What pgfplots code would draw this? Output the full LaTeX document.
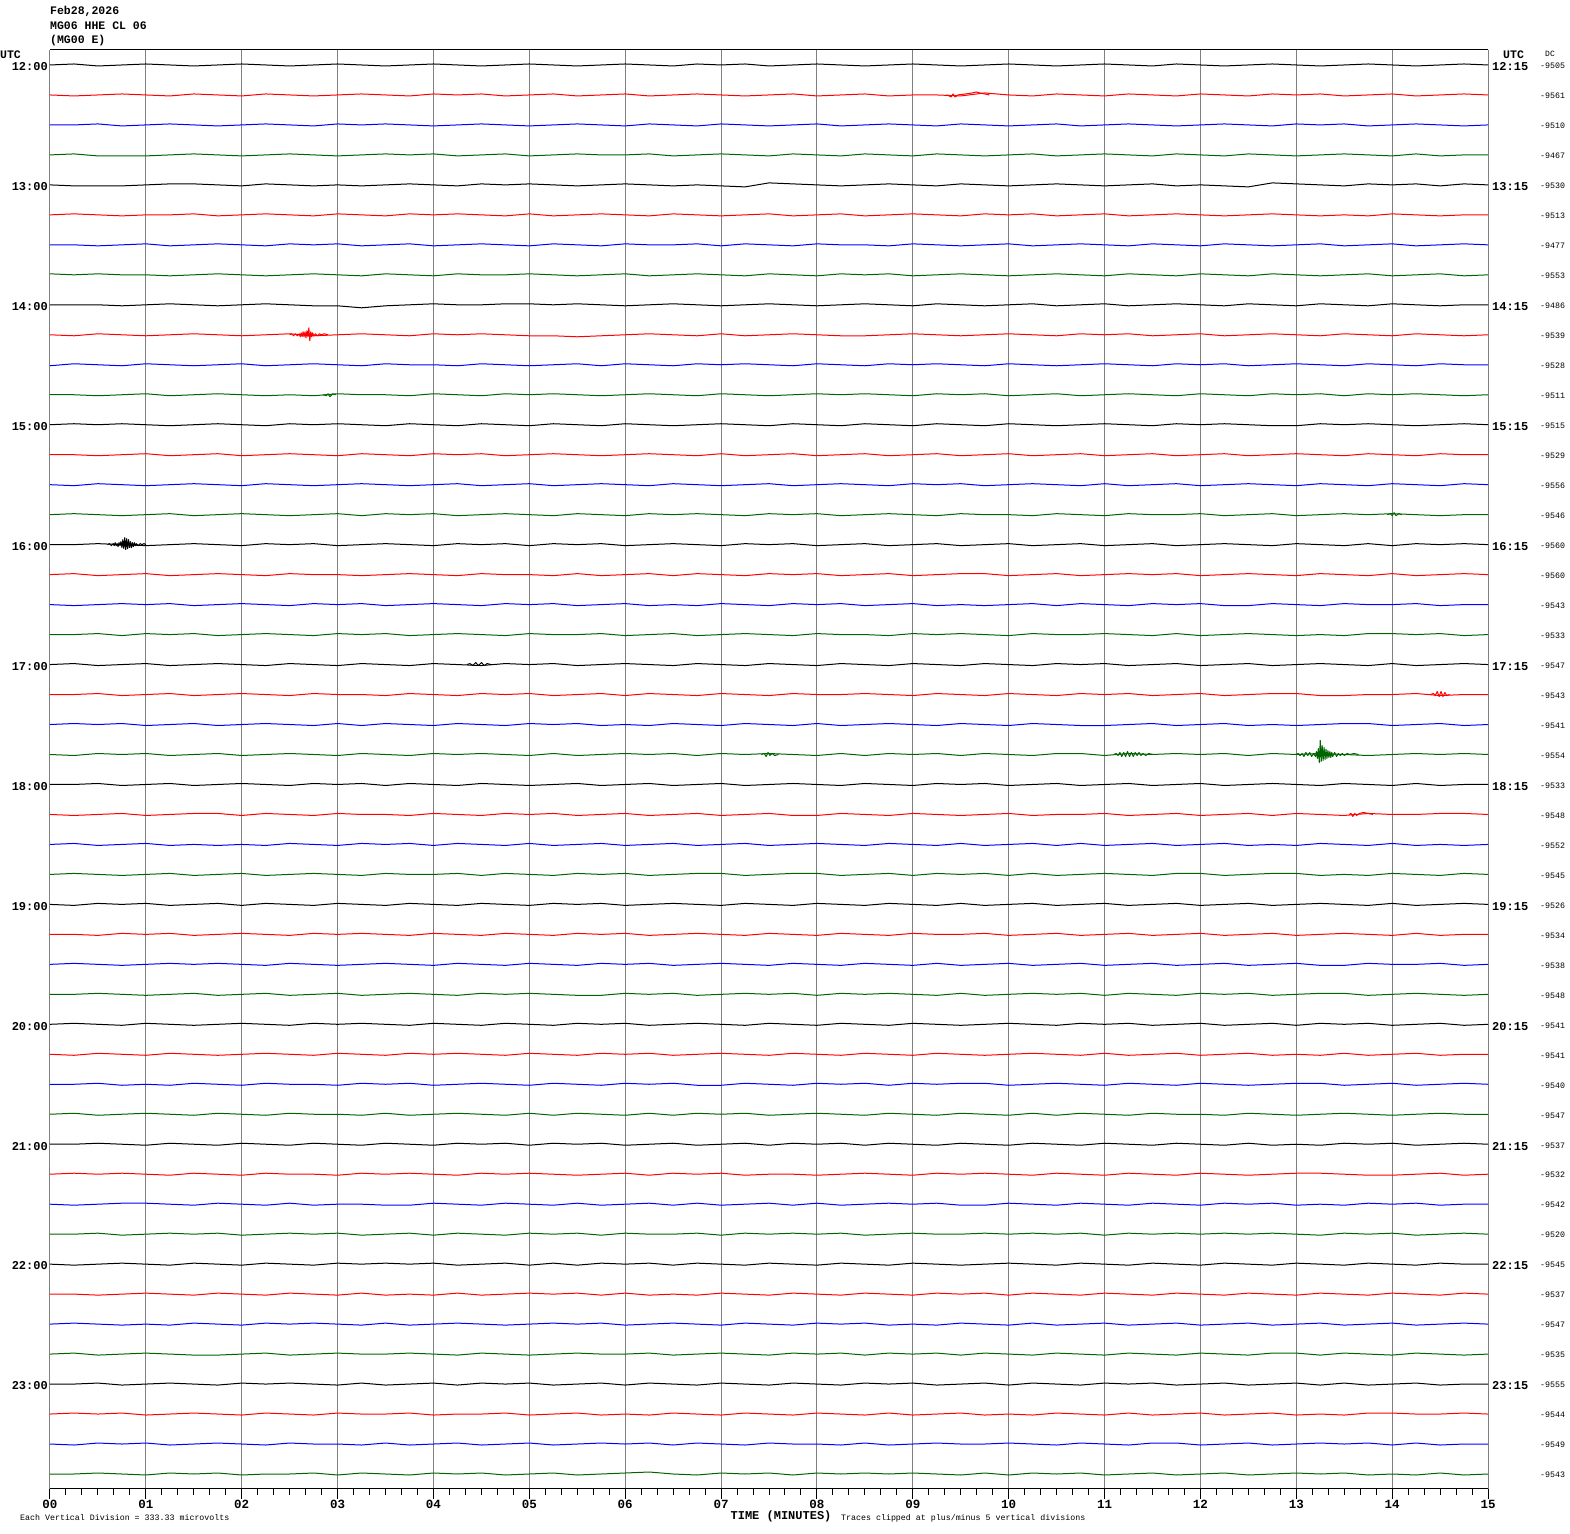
\documentclass[border=0pt]{standalone}
\usepackage{pgfplots}
\pgfplotsset{compat=1.18}
\usepackage{pgfplotstable}
\usepackage{fontspec}
\setmainfont{Liberation Mono}
\definecolor{sgreen}{RGB}{0,100,0}
\definecolor{gridgray}{RGB}{128,128,128}

% trace deviations in pixels (1 division = 30 px), sampled every 15 s
\pgfplotstableread{
t s0 s1 s2 s3 s4 s5 s6 s7 s8 s9 s10 s11 s12 s13 s14 s15 s16 s17 s18 s19 s20 s21 s22 s23 s24 s25 s26 s27 s28 s29 s30 s31 s32 s33 s34 s35 s36 s37 s38 s39 s40 s41 s42 s43 s44 s45 s46 s47
0 0 0 0 0  0 0 0 1  0 0 -1 0  0 0 0 0  0 0 0 0  0 0 0 0  0 0 0 0  0 0 0 0  0 0 0 0  0 0 0 0  0 0 0 0  0 0 0 0
0.25 1 -1 0 1  -1 1 0 0  0 -1 1 0  1 0 -1 1  0 1 -1 0  1 0 1 -1  0 -1 1 1  -1 0 1 0  1 -1 0 1  0 1 -1 0  -1 0 1 1  0 1 -1 0
0.5 -1 0 1 -1  -1 0 -1 1  0 1 0 -1  0 -1 1 0  1 -1 0 1  -1 1 0 1  1 0 -1 0  1 -1 0 1  0 1 1 -1  1 0 0 1  0 -1 0 -1  1 0 1 1
0.75 0 1 -1 -1  -1 -1 0 0  -1 0 -1 0  1 0 0 -1  0 0 1 -1  0 -1 1 0  -1 1 0 -1  0 1 -1 0  -1 0 -1 0  0 1 1 -1  1 0 -1 0  -1 1 0 0
1 1 0 0 -1  0 0 1 0  0 -1 1 1  0 1 -1 0  -1 1 0 1  1 0 -1 1  0 -1 1 0  1 0 0 -1  1 -1 0 1  -1 0 1 0  0 1 0 1  0 -1 1 -1
1.25 0 -1 1 0  1 0 -1 -1  1 0 0 -1  -1 -1 0 1  0 -1 1 0  -1 1 0 -1  1 0 -1 1  -1 1 1 0  0 1 -1 0  1 -1 0 1  -1 0 -1 0  1 0 -1 1
1.5 -1 1 0 1  1 1 0 0  0 1 -1 0  0 0 1 -1  1 0 -1 1  0 -1 1 0  -1 1 0 -1  0 -1 0 1  -1 0 1 -1  0 1 -1 0  1 -1 1 -1  0 1 0 0
1.75 0 0 -1 0  0 -1 1 1  -1 0 0 1  1 1 0 0  0 1 0 -1  1 0 -1 1  0 1 -1 0  1 0 1 -1  0 -1 0 1  -1 0 1 1  0 1 0 -1  -1 0 1 1
2 1 -1 0 -1  -1 0 0 0  0 -1 1 0  0 -1 -1 1  -1 0 1 0  0 1 0 -1  1 -1 0 1  -1 1 0 0  1 0 -1 0  1 -1 0 -1  -1 0 -1 0  1 -1 0 -1
2.25 0 1 1 0  1 1 -1 -1  1 0 -1 -1  -1 0 1 0  1 -1 0 1  -1 0 1 0  0 1 -1 -1  1 0 -1 1  0 1 1 -1  0 1 -1 0  1 -1 1 1  0 1 -1 0
2.5 -1 0 0 1  0 0 1 0  0 1 0 0  1 1 0 -1  0 1 -1 0  1 -1 0 1  -1 0 1 0  0 -1 1 -1  -1 0 0 1  -1 0 1 1  0 1 0 -1  1 0 1 0
2.75 0 -1 -1 0  -1 -1 0 1  -1 -1 1 -1  0 0 -1 0  1 0 1 -1  0 1 -1 0  1 -1 0 1  -1 1 0 0  1 -1 0 0  1 0 -1 0  -1 0 1 0  0 -1 0 1
3 1 0 1 -1  0 1 1 0  -1 0 0 1  1 -1 0 1  -1 0 0 1  -1 0 1 -1  0 1 -1 0  1 0 -1 1  0 1 -1 0  0 -1 0 1  1 -1 0 1  -1 1 0 -1
3.25 0 1 0 0  -1 0 -1 -1  -3 1 -1 0  0 1 1 -1  0 -1 1 0  1 0 -1 1  1 0 1 -1  0 1 0 -1  1 0 1 -1  -1 1 0 -1  0 1 -1 0  1 0 -1 1
3.5 -1 0 1 1  0 -1 0 1  -1 0 1 0  -1 0 0 1  1 0 -1 1  0 -1 1 0  -1 0 0 1  -1 0 1 0  0 -1 0 1  1 0 -1 0  1 -1 1 0  -1 0 1 0
3.75 0 -1 0 0  1 1 1 0  0 -1 0 -1  1 -1 -1 0  0 1 0 -1  -1 1 0 -1  1 -1 1 0  1 -1 0 1  -1 1 1 -1  0 1 -1 1  0 0 -1 1  0 1 -1 -1
4 1 1 -1 1  0 0 -1 -1  1 1 0 1  0 1 0 1  -1 0 1 0  1 0 -1 1  0 1 -1 0  0 1 -1 0  1 0 -1 0  -1 0 1 -1  1 -1 0 0  1 -1 0 1
4.25 0 0 0 -1  -1 1 0 1  0 0 -1 0  -1 0 1 -1  1 -1 0 1  0 -1 1 0  -1 0 1 1  -1 0 1 -1  0 1 0 1  1 -1 0 1  -1 1 1 -1  -1 0 1 0
4.5 -1 1 1 0  1 0 1 0  0 1 1 -1  1 1 -1 0  0 1 -1 0  -1 1 0 1  1 -1 0 -1  1 -1 0 1  -1 0 1 0  0 1 -1 0  0 -1 0 1  1 0 -1 1
4.75 0 -1 0 1  0 -1 0 0  1 0 0 1  0 -1 0 1  1 0 1 -1  1 0 -1 0  0 1 -1 1  0 1 -1 0  1 -1 0 -1  1 0 1 -1  1 0 -1 0  0 1 0 -1
5 1 0 -1 -1  1 1 -1 1  1 -1 -1 0  -1 0 1 0  -1 0 0 1  0 1 1 -1  -1 0 1 0  -1 0 1 1  0 1 -1 1  -1 1 0 1  -1 1 0 -1  1 -1 1 0
5.25 0 1 0 0  0 -1 1 0  0 -1 0 1  1 1 -1 -1  1 -1 1 0  1 -1 0 1  0 1 -1 -1  1 -1 0 0  -1 0 1 -1  1 0 -1 0  1 0 1 0  -1 0 -1 1
5.5 -1 -1 1 1  -1 0 0 -1  1 -2 1 0  0 0 0 1  0 1 -1 0  -1 0 1 -1  1 -1 0 1  0 1 -1 -1  1 -1 0 1  0 -1 1 1  -1 1 0 1  0 1 0 -1
5.75 0 0 0 0  0 1 -1 0  0 -1 -1 -1  -1 -1 1 0  1 -1 0 1  0 1 -1 0  -1 0 1 0  1 0 1 -1  0 1 -1 0  1 0 -1 -1  1 -1 1 0  1 -1 1 0
6 1 1 -1 0  1 0 1 1  -1 0 1 0  1 0 0 -1  -1 0 1 -1  1 -1 0 1  0 1 -1 1  -1 1 0 1  1 0 1 -1  -1 1 0 1  0 1 -1 0  -1 0 0 1
6.25 0 -1 1 1  0 -1 0 -1  0 1 0 1  0 1 -1 1  0 1 -1 0  0 1 -1 0  1 -1 0 -1  0 -1 1 0  -1 1 0 1  0 -1 1 0  1 -1 0 1  1 -1 1 2
6.5 -1 0 0 -1  -1 1 0 0  1 0 -1 0  -1 0 1 0  1 -1 0 1  -1 0 1 1  -1 0 1 0  1 0 -1 1  0 -1 1 -1  1 1 -1 0  -1 0 1 -1  0 1 -1 0
6.75 1 1 -1 0  0 0 1 1  0 -1 1 -1  0 -1 0 1  0 1 -1 -1  1 -1 0 -1  0 1 -1 1  0 1 0 -1  1 0 -1 1  -1 0 1 1  1 -1 0 0  -1 0 1 -1
7 0 0 1 1  -1 -1 -1 0  -1 1 0 1  1 1 -1 0  -1 0 1 0  0 1 -1 1  1 -1 0 1  -1 0 1 0  0 1 -1 0  0 1 -1 -1  0 1 -1 1  1 -1 0 1
7.25 1 -1 0 0  -2 0 1 -1  0 -1 1 0  0 -1 0 -1  1 -1 0 1  -1 0 1 0  -1 0 1 -1  1 -1 0 1  -1 0 1 1  1 -1 0 1  -1 0 1 0  0 1 -1 0
7.5 -1 0 -1 -1  2 1 0 1  1 0 0 -1  -1 0 1 1  0 1 -1 0  1 -1 0 1  0 1 -1 0  0 1 -1 0  1 -1 0 -1  -1 0 1 0  1 -1 0 -1  -1 0 1 1
7.75 0 1 0 1  1 -1 -1 0  0 1 -1 0  1 1 -1 0  1 0 1 -1  0 1 -1 0  1 -1 0 1  -1 0 1 1  0 1 -1 0  1 0 -1 1  0 1 -1 1  1 -1 0 -1
8 1 -1 1 0  0 0 1 -1  -1 0 1 1  0 -1 0 1  -1 1 0 1  -1 0 1 -1  0 -1 1 1  1 -1 0 -1  -1 0 1 1  0 -1 1 0  -1 0 1 0  0 1 0 1
8.25 0 0 -1 -1  -1 1 0 1  0 -1 0 0  -1 0 1 -1  0 -1 1 0  1 0 -1 1  -1 1 0 -1  0 1 -1 1  1 -1 0 0  1 0 -1 1  1 -1 0 1  -1 0 -1 0
8.5 -1 1 0 1  0 -1 0 0  1 -1 -1 1  1 1 0 0  1 0 -1 0  0 1 0 -1  1 0 -1 0  -1 0 1 0  0 1 1 -1  -1 1 0 -1  0 1 1 -1  1 -1 1 1
8.75 0 -1 1 0  1 0 -1 1  0 0 1 0  0 -1 -1 1  -1 1 0 -1  -1 0 1 1  0 -1 1 1  1 -1 0 1  -1 0 -1 1  1 0 1 0  -1 0 -1 1  0 1 -1 0
9 1 0 0 -1  0 1 1 -1  -1 1 0 -1  -1 0 1 0  0 -1 1 1  1 -1 0 0  -1 1 0 -1  0 1 -1 0  1 -1 1 0  0 -1 0 1  1 -1 0 0  1 -1 0 1
9.25 0 0 -1 1  -1 0 0 0  1 0 1 1  1 1 0 -1  1 0 -1 0  0 1 -1 1  1 0 -1 1  -1 0 1 -1  0 1 0 -1  -1 1 1 0  0 1 -1 1  -1 0 1 0
9.5 -1 -1 1 0  1 -1 -1 1  0 -1 0 0  0 -1 1 1  -1 1 0 1  -1 0 1 -1  0 -1 1 0  1 0 -1 1  -1 0 1 1  1 0 -1 0  -1 0 1 -1  0 1 0 -1
9.75 0 2 0 -1  0 1 0 0  -1 0 -1 1  -1 0 -1 0  0 1 -1 0  1 -1 0 1  1 0 -1 1  -1 1 0 -1  0 -1 1 0  0 1 -1 1  0 1 0 1  1 -1 0 1
10 1 0 -1 0  -1 0 1 -1  0 1 1 -1  1 1 0 0  1 -1 0 -1  0 1 -1 0  -1 1 0 -1  0 -1 1 0  1 0 -1 -1  -1 0 1 0  1 -1 -1 0  -1 0 1 -1
10.25 0 -1 0 1  0 1 -1 0  1 0 0 0  0 -1 1 -1  -1 0 1 1  -1 0 1 -1  0 -1 1 1  1 0 -1 1  0 1 0 1  1 -1 0 1  0 1 1 -1  1 -1 0 1
10.5 -1 1 1 -1  1 -1 0 1  -1 -1 -1 1  -1 0 0 1  0 1 -1 0  1 -1 0 1  1 0 -1 -1  -1 1 0 0  -1 0 1 -1  0 1 -1 0  -1 0 -1 1  0 1 -1 0
10.75 0 0 -1 0  0 0 1 0  0 1 0 -1  0 1 -1 0  1 -1 1 0  0 1 -1 1  -1 0 1 0  0 -1 1 1  1 -1 0 1  -1 0 1 1  1 -1 0 0  -1 0 1 1
11 1 -1 0 1  -1 1 0 -1  1 0 1 0  1 -1 1 -1  -1 0 0 1  1 0 -1 -1  0 1 -1 1  1 0 -1 -1  0 1 -1 0  1 -1 0 -1  0 1 1 -1  1 -1 0 -1
11.25 0 1 1 0  0 -1 -1 1  -1 1 0 1  0 0 -1 1  0 1 -1 0  -1 1 0 1  1 -1 0 0  -1 1 0 1  1 -1 1 -1  0 1 -1 1  -1 0 -1 1  0 1 -1 0
11.5 -1 0 0 -1  1 0 1 0  0 -1 -1 0  -1 1 0 0  1 0 1 -1  0 -1 1 0  -1 0 1 -1  0 -1 1 0  -1 0 0 1  -1 0 1 0  1 -1 0 0  1 -1 1 1
11.75 1 -1 -1 1  -1 1 0 -1  1 0 1 -1  1 -1 1 0  -1 1 0 1  1 0 -1 1  0 1 -1 1  1 0 -1 -1  0 1 -1 0  1 -1 0 1  0 1 1 -1  -1 0 1 -1
12 0 1 0 0  0 0 -1 1  0 1 0 1  0 0 -1 1  0 -1 1 -1  -1 1 0 0  1 -1 0 1  -1 1 0 1  1 -1 1 0  0 1 -1 0  -1 0 -1 1  0 1 -1 0
12.25 -1 0 1 -1  -1 -1 1 0  -1 -1 1 0  1 1 0 -1  1 0 -1 0  0 -1 1 1  -1 0 1 -1  0 -1 1 0  -1 0 0 -1  -1 0 1 1  1 -1 0 0  1 -1 0 1
12.5 0 -1 0 1  -2 0 0 -1  1 0 -1 -1  0 -1 1 0  0 1 -1 1  1 0 -1 -1  0 1 -1 0  1 0 -1 1  0 1 -1 1  1 -1 0 0  0 1 1 -1  -1 0 1 -1
12.75 1 1 -1 0  2 1 -1 1  0 1 0 1  -1 0 0 1  -1 0 1 0  -1 1 0 1  1 -1 0 1  -1 1 0 -1  1 -1 0 0  -1 0 1 1  -1 0 -1 1  0 1 -1 0
13 0 0 1 -1  1 0 0 0  -1 0 1 0  -1 1 -1 -1  1 -1 0 -1  0 1 -1 0  0 1 -1 1  0 -1 1 0  -1 0 1 -1  0 1 -1 0  1 -1 0 1  1 -1 0 1
13.25 -1 1 0 0  0 -1 1 -1  1 -1 0 1  1 0 1 0  0 1 -1 0  1 -1 0 1  -1 0 1 -1  1 0 -1 1  1 -1 1 0  -1 1 0 -1  0 1 1 -1  -1 0 1 0
13.5 0 -1 1 1  -1 0 -1 0  0 1 -1 -1  0 -1 0 1  -1 0 1 -1  0 -1 1 0  1 -1 0 0  0 1 -1 1  0 1 -1 1  1 0 -1 1  -1 0 -1 1  1 -1 0 1
13.75 1 0 -1 0  1 -1 0 1  -1 0 1 1  1 1 -1 0  1 -1 0 1  -1 0 1 -1  0 1 -1 -1  -1 0 1 -1  1 -1 0 0  0 -1 1 0  1 -1 0 0  -1 1 1 -1
14 0 1 0 -1  0 1 1 -1  1 -1 0 0  0 0 1 1  -1 1 0 1  1 0 -1 0  -1 0 1 1  1 -1 0 0  -1 0 1 -1  1 -1 0 1  0 1 1 -1  0 1 -1 0
14.25 -1 -1 1 1  1 0 -1 0  0 1 -1 1  -1 -1 0 0  1 -1 1 0  -1 1 0 1  1 0 -1 0  -1 1 0 1  0 1 -1 0  -1 0 1 -1  -1 0 -1 1  1 0 1 -1
14.5 0 0 0 -1  -1 -1 0 1  -1 0 1 0  0 1 -1 -1  0 0 -1 1  0 -1 1 0  -1 1 0 -1  0 -1 1 0  1 -1 0 1  0 1 -1 0  1 -1 0 0  -1 0 -1 1
14.75 1 1 -1 0  1 0 1 -1  0 -1 0 -1  1 0 1 0  1 1 0 -1  1 0 -1 1  0 1 -1 1  1 0 -1 -1  -1 0 1 0  1 -1 0 1  0 1 1 -1  0 1 0 -1
15 0 0 0 0  0 0 0 0  0 0 0 0  0 0 0 0  0 0 0 0  0 0 0 0  0 0 0 0  0 0 0 0  0 0 0 0  0 0 0 0  0 0 0 0  0 0 0 0
}\traces

\newcommand{\trace}[2]{\addplot[#2] table[x=t, y expr=\thisrow{s#1}/30-#1] {\traces};}

\begin{document}
\begin{tikzpicture}
\begin{axis}[
    name=ax,
    width=1438pt, height=1439pt,
    scale only axis,
    xmin=0, xmax=15, ymin=-47.5, ymax=0.5,
    xtick={0,...,15},
    xticklabels={00,01,02,03,04,05,06,07,08,09,10,11,12,13,14,15},
    minor x tick num=5,
    ytick=\empty,
    xtick pos=left,
    tick align=outside,
    major tick length=10pt,
    minor tick length=6pt,
    tick style={black, line width=1pt},
    xmajorgrids,
    major grid style={gridgray, line width=1pt},
    separate axis lines,
    x axis line style={black, line width=1pt},
    y axis line style={gridgray, line width=1pt},
    xticklabel style={font=\fontsize{12.5}{12.5}\selectfont\bfseries, inner sep=1pt},
    no markers,
    every axis plot/.append style={line width=1pt, line join=round},
]
\trace{0}{black}\trace{1}{red}\trace{2}{blue}\trace{3}{sgreen}
\trace{4}{black}\trace{5}{red}\trace{6}{blue}\trace{7}{sgreen}
\trace{8}{black}\trace{9}{red}\trace{10}{blue}\trace{11}{sgreen}
\trace{12}{black}\trace{13}{red}\trace{14}{blue}\trace{15}{sgreen}
\trace{16}{black}\trace{17}{red}\trace{18}{blue}\trace{19}{sgreen}
\trace{20}{black}\trace{21}{red}\trace{22}{blue}\trace{23}{sgreen}
\trace{24}{black}\trace{25}{red}\trace{26}{blue}\trace{27}{sgreen}
\trace{28}{black}\trace{29}{red}\trace{30}{blue}\trace{31}{sgreen}
\trace{32}{black}\trace{33}{red}\trace{34}{blue}\trace{35}{sgreen}
\trace{36}{black}\trace{37}{red}\trace{38}{blue}\trace{39}{sgreen}
\trace{40}{black}\trace{41}{red}\trace{42}{blue}\trace{43}{sgreen}
\trace{44}{black}\trace{45}{red}\trace{46}{blue}\trace{47}{sgreen}

% events
\addplot[black] table[row sep=\\, x=t, y expr=\thisrow{v}/30-16] {t v\\
0.60 0\\ 0.62 1\\ 0.64 -1\\ 0.66 1\\ 0.67 -1\\ 0.68 2\\ 0.69 -1\\ 0.70 1\\ 0.71 -2\\ 0.72 2\\ 0.73 -1\\ 0.74 3\\ 0.75 -3\\ 0.76 5\\ 0.77 -4\\ 0.78 7\\ 0.79 -5\\ 0.80 6\\ 0.81 -4\\ 0.82 5\\ 0.83 -3\\ 0.84 3\\ 0.85 -3\\ 0.86 2\\ 0.87 -2\\ 0.88 2\\ 0.89 -1\\ 0.90 1\\ 0.92 -1\\ 0.94 1\\ 0.96 0\\ 0.98 1\\ 1.00 0\\};
\addplot[red] table[row sep=\\, x=t, y expr=\thisrow{v}/30-9] {t v\\
2.50 0\\ 2.52 1\\ 2.54 -1\\ 2.56 1\\ 2.58 -1\\ 2.60 1\\ 2.61 -2\\ 2.62 2\\ 2.63 -2\\ 2.64 3\\ 2.65 -2\\ 2.66 3\\ 2.67 -3\\ 2.68 4\\ 2.69 -2\\ 2.70 7\\ 2.71 -6\\ 2.72 3\\ 2.73 -2\\ 2.74 2\\ 2.75 -1\\ 2.77 1\\ 2.79 -1\\ 2.81 1\\ 2.83 0\\ 2.86 1\\ 2.90 0\\};
\addplot[sgreen] table[row sep=\\, x=t, y expr=\thisrow{v}/30-23] {t v\\
13.00 0\\ 13.02 1\\ 13.04 -1\\ 13.06 1\\ 13.08 -2\\ 13.10 2\\ 13.12 -1\\ 13.14 2\\ 13.16 -2\\ 13.18 1\\ 13.20 -2\\ 13.21 3\\ 13.22 -4\\ 13.23 6\\ 13.24 -8\\ 13.25 14\\ 13.26 -7\\ 13.27 9\\ 13.28 -6\\ 13.29 7\\ 13.30 -5\\ 13.31 5\\ 13.32 -4\\ 13.33 4\\ 13.34 -3\\ 13.35 3\\ 13.36 -3\\ 13.37 2\\ 13.38 -2\\ 13.40 2\\ 13.42 -2\\ 13.44 1\\ 13.46 -1\\ 13.48 1\\ 13.50 -1\\ 13.53 1\\ 13.56 0\\ 13.60 1\\ 13.65 0\\};
\addplot[sgreen] table[row sep=\\, x=t, y expr=\thisrow{v}/30-23] {t v\\
11.10 0\\ 11.12 1\\ 11.14 -1\\ 11.16 2\\ 11.18 -2\\ 11.20 2\\ 11.22 -2\\ 11.24 3\\ 11.26 -2\\ 11.28 2\\ 11.30 -2\\ 11.32 2\\ 11.34 -1\\ 11.36 2\\ 11.38 -1\\ 11.40 1\\ 11.43 -1\\ 11.46 1\\ 11.50 0\\};
\addplot[sgreen] table[row sep=\\, x=t, y expr=\thisrow{v}/30-23] {t v\\
7.42 0\\ 7.45 1\\ 7.47 -2\\ 7.49 2\\ 7.51 -1\\ 7.53 1\\ 7.56 -1\\ 7.60 0\\};
\addplot[black] table[row sep=\\, x=t, y expr=\thisrow{v}/30-20] {t v\\
4.35 0\\ 4.38 1\\ 4.41 -1\\ 4.44 2\\ 4.47 -1\\ 4.50 2\\ 4.53 -1\\ 4.56 1\\ 4.60 0\\};
\addplot[red] table[row sep=\\, x=t, y expr=\thisrow{v}/30-21] {t v\\
14.40 0\\ 14.43 1\\ 14.45 -1\\ 14.47 3\\ 14.49 -2\\ 14.51 3\\ 14.53 -2\\ 14.55 2\\ 14.57 -1\\ 14.60 0\\};
\addplot[red] table[row sep=\\, x=t, y expr=\thisrow{v}/30-25] {t v\\
13.55 0\\ 13.57 1\\ 13.59 -2\\ 13.61 1\\ 13.63 -1\\ 13.66 1\\ 13.70 2\\ 13.75 1\\ 13.80 0\\};
\addplot[red] table[row sep=\\, x=t, y expr=\thisrow{v}/30-1] {t v\\
9.35 0\\ 9.38 -1\\ 9.40 -2\\ 9.42 1\\ 9.44 -2\\ 9.47 0\\ 9.55 1\\ 9.62 2\\ 9.66 3\\ 9.70 2\\ 9.75 1\\ 9.80 0\\};
\addplot[sgreen] table[row sep=\\, x=t, y expr=\thisrow{v}/30-15] {t v\\
13.95 0\\ 13.98 1\\ 14.00 -1\\ 14.02 2\\ 14.04 -1\\ 14.07 1\\ 14.10 0\\};
\addplot[sgreen] table[row sep=\\, x=t, y expr=\thisrow{v}/30-11] {t v\\
2.85 0\\ 2.88 -1\\ 2.90 1\\ 2.92 -2\\ 2.95 1\\ 2.98 0\\};
\end{axis}

% header
\begin{scope}[every node/.style={inner sep=0pt, anchor=west, font=\fontsize{11.5}{11.5}\selectfont\bfseries}]
\node at ([yshift=39pt]ax.north west) {Feb28,2026};
\node at ([yshift=24pt]ax.north west) {MG06 HHE CL 06};
\node at ([yshift=9pt]ax.north west) {(MG00 E)};
\node at ([shift={(-50pt,-4.5pt)}]ax.north west) {UTC};
\node at ([shift={(15pt,-4.5pt)}]ax.north east) {UTC};
\end{scope}
\node[inner sep=0pt, anchor=west, font=\fontsize{8}{8}\selectfont] at ([shift={(57pt,-4pt)}]ax.north east) {DC};

% hour labels
\foreach \lab [count=\i from 0] in {12:00,13:00,14:00,15:00,16:00,17:00,18:00,19:00,20:00,21:00,22:00,23:00}
  \path (ax.north west) ++(-2pt,{-17pt-119.9pt*\i}) node[inner sep=0pt, anchor=east, font=\fontsize{12}{12}\selectfont\bfseries] {\lab};
\foreach \lab [count=\i from 0] in {12:15,13:15,14:15,15:15,16:15,17:15,18:15,19:15,20:15,21:15,22:15,23:15}
  \path (ax.north east) ++(4pt,{-17pt-119.9pt*\i}) node[inner sep=0pt, anchor=west, font=\fontsize{12}{12}\selectfont\bfseries] {\lab};

% DC offsets
\foreach \lab [count=\i from 0] in {-9505,-9561,-9510,-9467,-9530,-9513,-9477,-9553,-9486,-9539,-9528,-9511,-9515,-9529,-9556,-9546,-9560,-9560,-9543,-9533,-9547,-9543,-9541,-9554,-9533,-9548,-9552,-9545,-9526,-9534,-9538,-9548,-9541,-9541,-9540,-9547,-9537,-9532,-9542,-9520,-9545,-9537,-9547,-9535,-9555,-9544,-9549,-9543}
  \path (ax.north east) ++(52pt,{-16pt-29.98pt*\i}) node[inner sep=0pt, anchor=west, font=\fontsize{8.3}{8.3}\selectfont] {\lab};

% footer
\node[inner sep=0pt, font=\fontsize{12}{12}\selectfont\bfseries] at ([shift={(731pt,-27pt)}]ax.south west) {TIME (MINUTES)};
\node[inner sep=0pt, anchor=west, font=\fontsize{8.3}{8.3}\selectfont] at ([shift={(-30pt,-29pt)}]ax.south west) {Each Vertical Division =  333.33 microvolts};
\node[inner sep=0pt, anchor=west, font=\fontsize{8.3}{8.3}\selectfont] at ([shift={(791pt,-29pt)}]ax.south west) {Traces clipped at plus/minus 5 vertical divisions};

\path ([shift={(-50pt,-45pt)}]ax.south west) rectangle ([shift={(82pt,50pt)}]ax.north east);
\end{tikzpicture}
\end{document}
